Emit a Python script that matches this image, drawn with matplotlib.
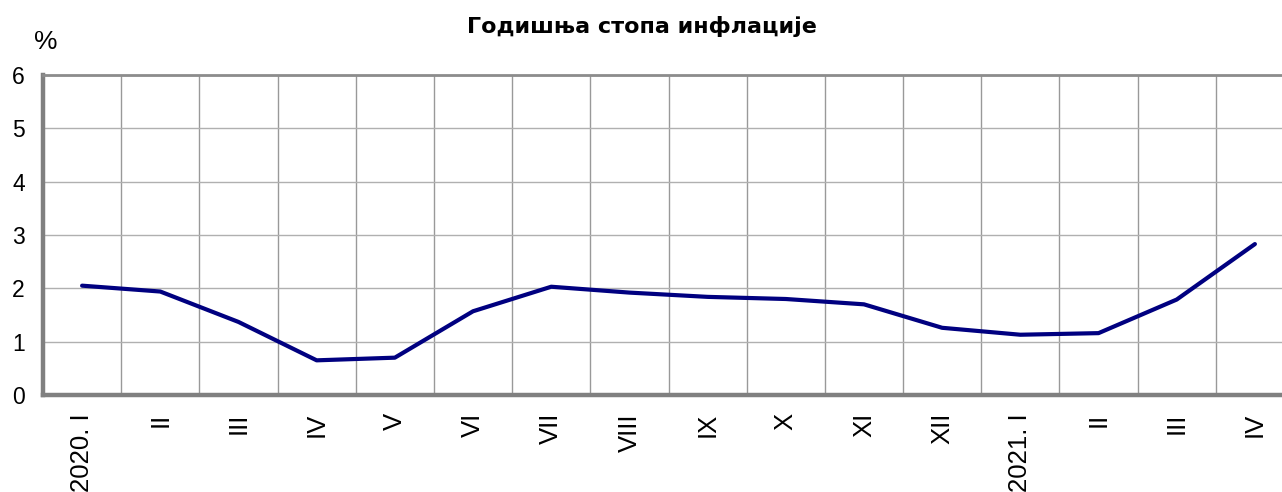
import matplotlib
matplotlib.use("Agg")
import matplotlib.pyplot as plt
import numpy as np

plt.rcParams['font.family'] = ['Liberation Sans', 'DejaVu Sans']

categories = ["2020. I", "II", "III", "IV", "V", "VI", "VII", "VIII", "IX", "X",
              "XI", "XII", "2021. I", "II", "III", "IV"]
inflation = [2.05, 1.94, 1.37, 0.65, 0.70, 1.57, 2.03, 1.92, 1.84, 1.80,
             1.70, 1.26, 1.13, 1.16, 1.79, 2.83]
y_ticks = [0, 1, 2, 3, 4, 5, 6]
title = "Годишња стопа инфлације"

W, H = 1282, 492
fig = plt.figure(figsize=(W / 100, H / 100), dpi=100)
left = 43 / W
right = 1294 / W
bottom = (H - 395) / H
top = (H - 75) / H
ax = fig.add_axes([left, bottom, right - left, top - bottom])

x = np.arange(len(categories))
ax.plot(x, inflation, color='#000080', lw=3.0, solid_joinstyle='round',
        solid_capstyle='round', zorder=3)

ax.set_xlim(-0.5, len(categories) - 0.5)
ax.set_ylim(0, 6)
ax.set_yticks(y_ticks)
ax.set_yticklabels([str(v) for v in y_ticks])
ax.set_xticks(x)
ax.set_xticklabels(categories, rotation=90, va='top', ha='center')
ax.set_xticks(np.arange(len(categories) - 1) + 0.5, minor=True)

ax.tick_params(axis='both', which='both', length=0, colors='black')
ax.tick_params(axis='y', pad=13, labelsize=16.5)
ax.tick_params(axis='x', pad=13, labelsize=18.5)

ax.grid(True, axis='y', which='major', color='#b0b0b0', lw=1.0, zorder=1)
ax.grid(True, axis='x', which='minor', color='#999999', lw=1.0, zorder=1)
ax.grid(False, axis='x', which='major')

for s in ['left', 'bottom']:
    ax.spines[s].set_color('#808080')
    ax.spines[s].set_linewidth(3.2)
ax.spines['top'].set_color('#8c8c8c')
ax.spines['top'].set_linewidth(2.0)
ax.spines['right'].set_visible(False)

fig.text(642 / W, 1 - 33 / H, title, ha='center', va='baseline',
         fontsize=16, fontweight='bold', family=['DejaVu Sans'])
fig.text(46 / W, 1 - 49 / H, "%", ha='center', va='baseline', fontsize=19)

fig.savefig("out.png", dpi=100)
